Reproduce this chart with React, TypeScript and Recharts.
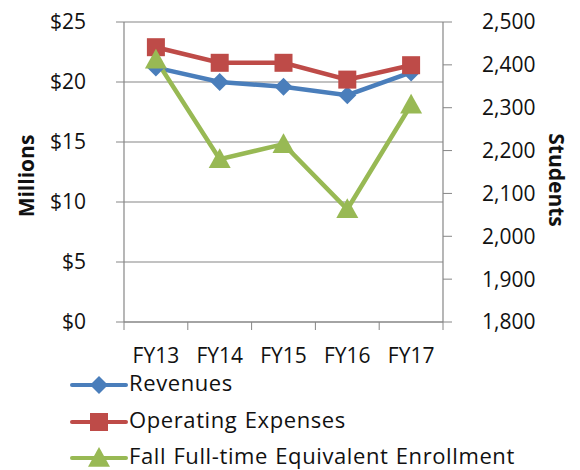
import React from "react";
import { CartesianGrid, Legend, Line, LineChart, XAxis, YAxis } from "recharts";

const years = ["FY13", "FY14", "FY15", "FY16", "FY17"];
const revenues = [21.2, 20.0, 19.6, 18.9, 20.8];
const operatingExpenses = [22.9, 21.6, 21.6, 20.2, 21.4];
const enrollment = [2412, 2180, 2215, 2063, 2307];

const dollarTicks = [0, 5, 10, 15, 20, 25];
const studentTicks = [1800, 1900, 2000, 2100, 2200, 2300, 2400, 2500];

const BLUE = "#4a7ebb";
const RED = "#be4b48";
const GREEN = "#98b954";
const GRAY = "#868686";
const FONT = "'Open Sans', sans-serif";

const W = 580;
const H = 470;
const PLOT_LEFT = 124;
const PLOT_RIGHT = 443;
const BAND = (PLOT_RIGHT - PLOT_LEFT) / years.length;

const data = years.map((year, i) => ({
  year,
  revenues: revenues[i],
  expenses: operatingExpenses[i],
  enrollment: enrollment[i],
}));

type DotProps = { cx?: number; cy?: number; index?: number };

function Diamond({ cx = 0, cy = 0, fill }: DotProps & { fill: string }) {
  const r = 9;
  return <path d={`M${cx},${cy - r}L${cx + r},${cy}L${cx},${cy + r}L${cx - r},${cy}Z`} fill={fill} />;
}

function Square({ cx = 0, cy = 0, fill }: DotProps & { fill: string }) {
  const r = 9;
  return <rect x={cx - r} y={cy - r} width={r * 2} height={r * 2} fill={fill} />;
}

function Triangle({ cx = 0, cy = 0, fill }: DotProps & { fill: string }) {
  const r = 11;
  return <path d={`M${cx},${cy - r}L${cx + r},${cy + r * 0.8}L${cx - r},${cy + r * 0.8}Z`} fill={fill} />;
}

const SERIES = [
  { key: "revenues", label: "Revenues", color: BLUE, Marker: Diamond },
  { key: "expenses", label: "Operating Expenses", color: RED, Marker: Square },
  { key: "enrollment", label: "Fall Full-time Equivalent Enrollment", color: GREEN, Marker: Triangle },
];

/** Category label plus Excel-style tick marks between categories. */
function CategoryTick({ x = 0, y = 0, payload, index }: any) {
  const left = x - BAND / 2;
  const isLast = index === years.length - 1;
  return (
    <g>
      <line x1={left} x2={left} y1={y - 8} y2={y} stroke={GRAY} />
      {isLast && <line x1={x + BAND / 2} x2={x + BAND / 2} y1={y - 8} y2={y} stroke={GRAY} />}
      <text x={x} y={y + 33} textAnchor="middle" fontSize={21} fontFamily={FONT} fill="#111">
        {payload.value}
      </text>
    </g>
  );
}

function ChartLegend() {
  return (
    <div style={{ fontFamily: FONT, fontSize: 22, letterSpacing: 0.6, wordSpacing: 1, color: "#111" }}>
      {SERIES.map(({ label, color, Marker }) => (
        <div key={label} style={{ display: "flex", alignItems: "center", height: 36.5 }}>
          <svg width={58} height={36} style={{ flexShrink: 0 }}>
            <line x1={2} x2={56} y1={18} y2={18} stroke={color} strokeWidth={4} strokeLinecap="round" />
            <Marker cx={29} cy={18} fill={color} />
          </svg>
          <span style={{ marginLeft: 1, lineHeight: "24px", whiteSpace: "nowrap", position: "relative", top: -3 }}>
            {label}
          </span>
        </div>
      ))}
    </div>
  );
}

function AxisTitle({ x, y, angle, text }: { x: number; y: number; angle: number; text: string }) {
  return (
    <text
      x={x}
      y={y}
      transform={`rotate(${angle}, ${x}, ${y})`}
      textAnchor="middle"
      dominantBaseline="central"
      fontFamily={FONT}
      fontWeight="bold"
      fontSize={21}
      fill="#111"
    >
      {text}
    </text>
  );
}

export default function App() {
  const tickStyle = { fill: "#111", fontSize: 21, fontFamily: FONT };
  return (
    <div style={{ position: "absolute", left: 0, top: 0, width: W, height: H, background: "#fff" }}>
      <LineChart width={W} height={H} data={data} margin={{ top: 22, right: 0, bottom: 0, left: 0 }}>
        <CartesianGrid yAxisId="left" vertical={false} stroke={GRAY} strokeWidth={1.2} />
        <XAxis
          dataKey="year"
          scale="band"
          height={148}
          tickLine={false}
          tickSize={8}
          tickMargin={0}
          axisLine={{ stroke: GRAY, strokeWidth: 1.2 }}
          tick={<CategoryTick />}
          interval={0}
        />
        <YAxis
          yAxisId="left"
          width={PLOT_LEFT}
          domain={[0, 25]}
          ticks={dollarTicks}
          tickFormatter={(v: number) => `$${v}`}
          tickSize={8}
          tickLine={{ stroke: GRAY }}
          axisLine={{ stroke: GRAY, strokeWidth: 1.2 }}
          tick={{ ...tickStyle, dx: -28 }}
          label={{ content: () => <AxisTitle x={26} y={176} angle={-90} text="Millions" /> }}
        />
        <YAxis
          yAxisId="right"
          orientation="right"
          width={W - PLOT_RIGHT}
          domain={[1800, 2500]}
          ticks={studentTicks}
          tickFormatter={(v: number) => v.toLocaleString("en-US")}
          tickSize={9}
          tickLine={{ stroke: GRAY }}
          axisLine={{ stroke: GRAY, strokeWidth: 1.2 }}
          tick={{ ...tickStyle, dx: 28 }}
          label={{ content: () => <AxisTitle x={557} y={180} angle={90} text="Students" /> }}
        />
        <Legend
          layout="vertical"
          align="center"
          verticalAlign="middle"
          wrapperStyle={{ top: 367, left: 70, width: 500, height: 100 }}
          content={() => <ChartLegend />}
        />
        {SERIES.map(({ key, color, Marker }) => (
          <Line
            key={key}
            dataKey={key}
            yAxisId={key === "enrollment" ? "right" : "left"}
            stroke={color}
            strokeWidth={4.5}
            dot={(p: DotProps) => <Marker key={p.index} cx={p.cx} cy={p.cy} fill={color} />}
            activeDot={false}
            isAnimationActive={false}
          />
        ))}
      </LineChart>
    </div>
  );
}
